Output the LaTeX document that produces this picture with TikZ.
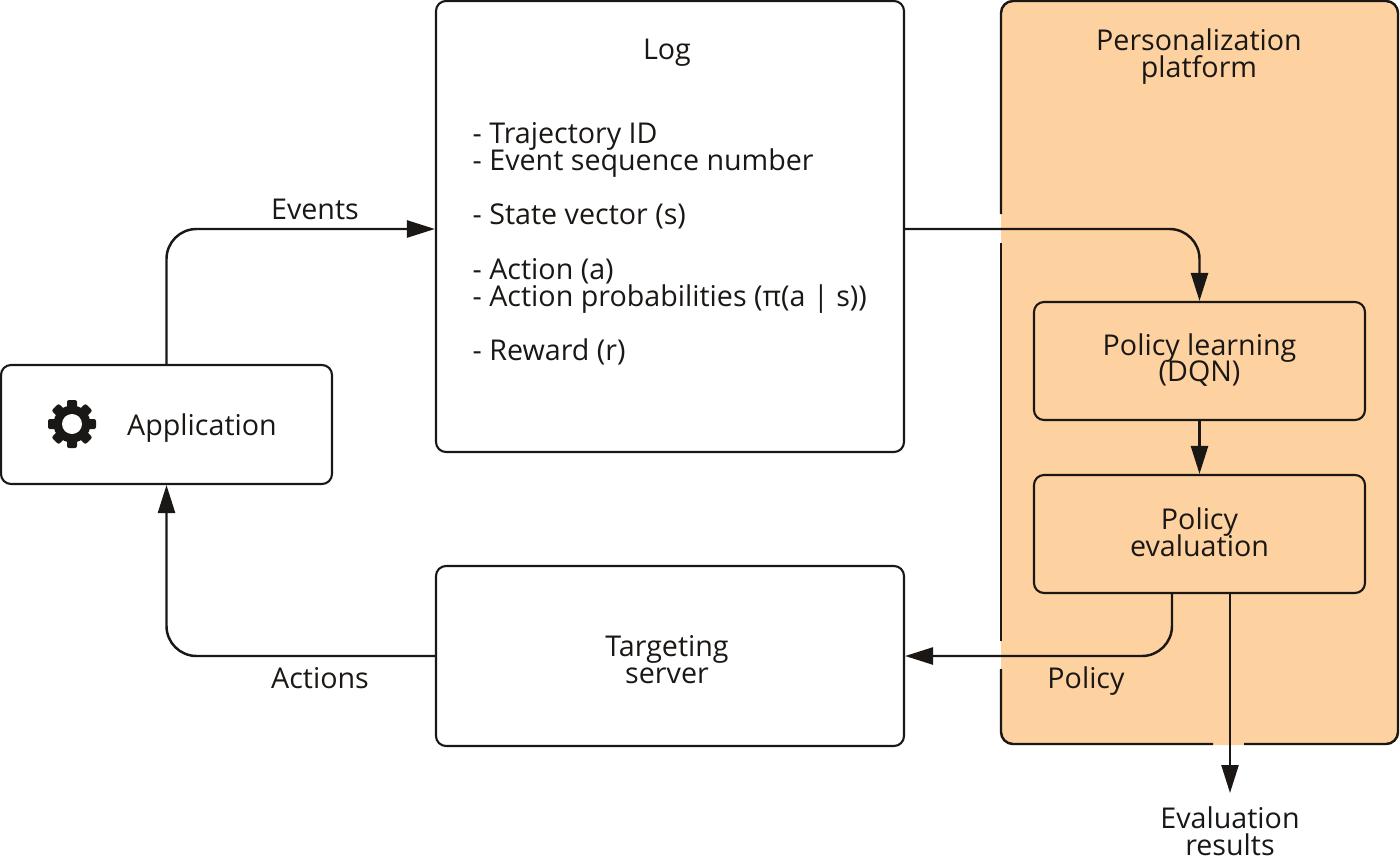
\documentclass[tikz,border=0pt]{standalone}
\usepackage{fontspec}
\setmainfont{Open Sans}
\usetikzlibrary{arrows.meta}

\definecolor{inkcol}{HTML}{1A1715}
\definecolor{panelcol}{HTML}{FDD2A0}

\setlength{\lineskiplimit}{-20pt}
\setlength{\normallineskiplimit}{-20pt}

\tikzset{
	box/.style={draw=inkcol, line width=0.6pt, rounded corners=0.1cm, align=center},
	lbl/.style={text=inkcol, align=center, inner sep=0pt, font=\fontsize{8.15}{7.65}\selectfont},
	conn/.style={draw=inkcol, line width=0.7pt, rounded corners=0.3cm, -{Triangle[length=2.8mm,width=1.7mm]}}
}

\begin{document}
\begin{tikzpicture}
	\useasboundingbox (0, 0) rectangle (14, 8.65);

	% Оранжевая панель
	\node[fill=panelcol, rounded corners=0.12cm, minimum width=3.97cm, minimum height=7.44cm] (panel) at (11.995, 4.92) {};
	\draw[inkcol, line width=0.7pt, rounded corners=0.12cm] (10.01, 6.51) -- (10.01, 8.64) -- (13.98, 8.64) -- (13.98, 1.21) -- (12.44, 1.21);
	\draw[inkcol, line width=0.7pt, rounded corners=0.12cm] (12.13, 1.21) -- (10.01, 1.21) -- (10.01, 1.96);
	\draw[inkcol, line width=0.7pt] (10.01, 2.24) -- (10.01, 6.22);

	\node[box, minimum width=3.31cm, minimum height=1.19cm] (app) at (1.665, 4.405) {};
	\node[box, minimum width=4.68cm, minimum height=4.51cm] (log) at (6.70, 6.385) {};
	\node[box, minimum width=4.68cm, minimum height=1.80cm] (target) at (6.70, 2.09) {};
	\node[box, minimum width=3.31cm, minimum height=1.18cm] (learn) at (11.995, 5.04) {};
	\node[box, minimum width=3.31cm, minimum height=1.18cm] (eval) at (11.995, 3.31) {};

	% Шестерня
	\coordinate (gear) at (0.72, 4.41);
	\fill[inkcol] (gear) circle (0.185);
	\foreach \a in {0, 45, ..., 315}
		\fill[inkcol, rotate around={\a:(gear)}, rounded corners=0.02cm] ([xshift=-0.05cm]gear) rectangle ([xshift=0.05cm, yshift=0.24cm]gear);
	\fill[white] (gear) circle (0.1);

	\node[lbl] (apptext) at (2.02, 4.37) {Application};
	\node[lbl] (logtext) at (6.67, 8.12) {Log};
	\node[lbl, anchor=north west, align=left] (fields) at (4.72, 7.43) {- Trajectory ID\\- Event sequence number\\[7.65pt]- State vector (s)\\[7.93pt]- Action (a)\\- Action probabilities (π(a | s))\\[7.93pt]- Reward (r)};
	\node[lbl] (targettext) at (6.67, 2.05) {Targeting\\server};
	\node[lbl] (paneltext) at (11.99, 8.08) {Personalization\\platform};
	\node[lbl] (learntext) at (11.995, 5.05) {Policy learning\\(DQN)};
	\node[lbl] (evaltext) at (11.995, 3.33) {Policy\\evaluation};
	\node[lbl, anchor=north] (results) at (12.30, 0.59) {Evaluation\\results};
	\coordinate (resultstip) at (12.30, 0.72);

	\node[lbl] (events) at (3.15, 6.56) {Events};
	\node[lbl] (actions) at (3.20, 1.87) {Actions};
	\node[lbl] (policy) at (10.86, 1.84) {Policy};

	\draw[conn] (app.north) |- ([yshift=-0.025cm]log.west);
	\draw[conn] ([yshift=-0.025cm]log.east) -| (learn.north);
	\draw[conn] (learn.south) -- (eval.north);
	\draw[conn] ([xshift=-0.275cm]eval.south) |- (target.east);
	\draw[conn] (eval.south -| resultstip) -- (resultstip);
	\draw[conn] (target.west) -| (app.south);
\end{tikzpicture}
\end{document}
